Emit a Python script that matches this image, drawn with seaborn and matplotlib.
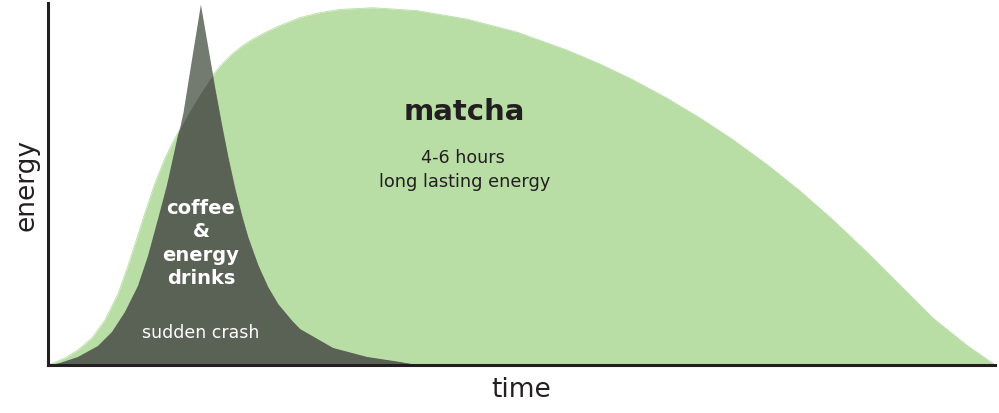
import matplotlib
matplotlib.use("Agg")
from matplotlib import pyplot as plt
import seaborn as sns

# matcha curve (time, energy)
matcha_t = [0.00, 0.42, 1.80, 3.17, 4.65, 6.02, 7.39, 8.45, 9.50, 10.24, 11.30, 12.36,
            13.41, 14.78, 16.05, 17.32, 18.37, 19.43, 20.49, 21.54, 22.92, 24.29, 26.61,
            28.72, 30.83, 34.32, 38.97, 44.24, 49.52, 54.80, 58.29, 61.77, 65.36, 68.85,
            72.33, 75.92, 79.41, 82.89, 86.48, 89.97, 93.45, 97.04, 100.0]
matcha_e = [0.00, 0.41, 1.93, 4.14, 7.46, 12.43, 19.61, 27.35, 35.91, 41.99, 50.28, 57.18,
            62.71, 69.34, 74.86, 79.83, 83.15, 85.91, 88.12, 89.92, 91.85, 93.59, 95.99,
            97.38, 98.26, 98.73, 97.93, 95.58, 91.99, 87.02, 83.18, 78.81, 73.73, 68.26,
            62.24, 55.39, 48.10, 40.08, 31.16, 22.04, 12.93, 5.41, 0.0]

# coffee & energy drinks curve
coffee_t = [0.42, 1.27, 3.17, 5.28, 6.76, 8.13, 9.50, 10.56, 11.62, 12.57, 13.41, 14.26,
            15.21, 16.10, 16.90, 17.63, 18.37, 19.01, 19.75, 20.49, 21.12, 22.18, 23.23,
            24.29, 25.77, 26.61, 30.10, 33.69, 37.17, 38.97]
coffee_e = [0.0, 0.55, 2.21, 5.25, 9.12, 14.64, 21.82, 30.11, 40.33, 49.72, 59.67, 69.89,
            85.36, 99.72, 87.57, 76.52, 66.08, 57.57, 48.73, 41.10, 35.36, 27.62, 21.55,
            16.85, 12.21, 9.94, 4.70, 2.21, 0.83, 0.0]

green = "#b8dea5"
dark = "#5a6256"
light = "#737a70"
ink = "#231f20"

sns.set_theme(style="white")
plt.rcParams["font.family"] = ["DejaVu Sans"]

fig = plt.figure(figsize=(9.99, 4.14), dpi=100)
ax = fig.add_axes([0.048, 0.116, 0.948, 0.874])

ax.fill_between(matcha_t, 0, matcha_e, color=green, lw=0, zorder=1)
sns.lineplot(x=matcha_t, y=matcha_e, color=green, lw=0.6, ax=ax, zorder=1)

cof = ax.fill_between(coffee_t, 0, coffee_e, color=light, lw=0, zorder=2)
# overlap of the two areas is drawn darker
over = ax.fill_between(matcha_t, 0, matcha_e, color=dark, lw=0, zorder=3)
over.set_clip_path(cof.get_paths()[0], ax.transData)

ax.set_xlim(0, 100)
ax.set_ylim(0, 100)
ax.set_xticks([])
ax.set_yticks([])
sns.despine(ax=ax)
for s in ["left", "bottom"]:
    ax.spines[s].set_color(ink)
    ax.spines[s].set_linewidth(2.2)
    ax.spines[s].set_zorder(5)

ax.set_xlabel("time", fontsize=19, color=ink, va="top")
ax.set_ylabel("energy", fontsize=19, color=ink)
ax.xaxis.set_label_coords(0.5, -0.030)
ax.yaxis.set_label_coords(-0.0084, 0.5)

ax.text(44.0, 70.2, "matcha", fontsize=21, fontweight="bold", color=ink,
        ha="center", va="center", zorder=6)
ax.text(43.8, 57.5, "4-6 hours", fontsize=12.6, color=ink, ha="center", va="center", zorder=6)
ax.text(44.0, 50.8, "long lasting energy", fontsize=12.8, color=ink,
        ha="center", va="center", zorder=6)

ax.text(16.16, 33.8, "coffee\n&\nenergy\ndrinks", fontsize=14, fontweight="bold",
        color="white", ha="center", va="center", linespacing=1.3, zorder=6)
ax.text(16.16, 9.1, "sudden crash", fontsize=12.5, color="white",
        ha="center", va="center", zorder=6)

fig.savefig("out.png", dpi=100)
